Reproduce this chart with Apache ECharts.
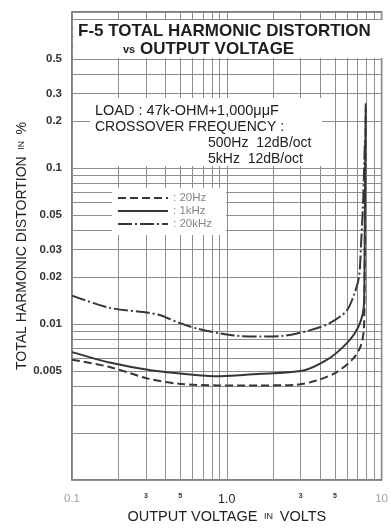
<!DOCTYPE html>
<html><head><meta charset="utf-8">
<script src="https://cdn.jsdelivr.net/npm/echarts@6/dist/echarts.min.js"></script>
<style>html,body{margin:0;padding:0;background:#fff}#c{width:391px;height:529px}</style>
</head><body><div id="c"></div>
<script>
// ---- data ----
const seriesNames = ['20Hz', '1kHz', '20kHz'];
const volts20Hz = [0.1, 0.175, 0.314, 0.49, 0.88, 1.6, 2.8, 3.8, 5.1, 6.55, 7.35, 7.68, 7.75, 7.8, 7.86, 7.9];
const thd20Hz   = [0.0059, 0.0053, 0.00445, 0.00414, 0.00404, 0.00404, 0.00408, 0.00434, 0.0049, 0.006, 0.00727, 0.0093, 0.015, 0.04, 0.12, 0.24];
const volts1kHz = [0.1, 0.175, 0.33, 0.59, 0.9, 1.65, 3.13, 4.42, 5.63, 6.65, 7.35, 7.68, 7.75, 7.8, 7.85, 7.9];
const thd1kHz   = [0.0066, 0.00566, 0.00503, 0.00474, 0.00462, 0.0048, 0.00503, 0.00588, 0.00711, 0.0086, 0.0105, 0.013, 0.02, 0.05, 0.12, 0.26];
const volts20kHz = [0.1, 0.175, 0.314, 0.38, 0.488, 0.654, 0.915, 1.17, 1.65, 2.34, 3.42, 4.59, 5.92, 6.65, 7.15, 7.35, 7.57, 7.68, 7.8];
const thd20kHz   = [0.0152, 0.0127, 0.0118, 0.0113, 0.0102, 0.0093, 0.0087, 0.0084, 0.0083, 0.0084, 0.0091, 0.0101, 0.0121, 0.0155, 0.0201, 0.0312, 0.0558, 0.0864, 0.15];

const xGridValues = [0.1,0.2,0.3,0.4,0.5,0.6,0.7,0.8,0.9,1,2,3,4,5,6,7,8,9,10];
const yGridValues = [0.001,0.002,0.003,0.004,0.005,0.006,0.007,0.008,0.009,0.01,0.02,0.03,0.04,0.05,0.06,0.07,0.08,0.09,0.1,0.2,0.3,0.4,0.5,0.6,0.7,0.8,0.9,1];
const xLabelValues = [0.1, 0.3, 0.5, 1, 3, 5, 10];
const xLabelTexts  = ['0.1', '3', '5', '1.0', '3', '5', '10'];
const xLabelStyles = ['g', 's', 's', 'm', 's', 's', 'g'];
const yLabelValues = [0.005, 0.01, 0.02, 0.03, 0.05, 0.1, 0.2, 0.3, 0.5];
const yLabelTexts  = ['0.005', '0.01', '0.02', '0.03', '0.05', '0.1', '0.2', '0.3', '0.5'];

// ---- helpers ----
const lg = v => Math.round(Math.log10(v) * 1e9) / 1e9;
const pick = (vals, v) => {
  let best = 0, d = Infinity;
  vals.forEach((x, i) => { const e = Math.abs(lg(x) - v); if (e < d) { d = e; best = i; } });
  return best;
};
const zip = (a, b) => a.map((v, i) => [v, b[i]]);
const FF = '"Liberation Sans", Arial, sans-serif';
const INK = '#363636';
const GRIDC = '#8e8e8e';

const chart = echarts.init(document.getElementById('c'), null, {renderer: 'canvas'});
chart.setOption({
  backgroundColor: '#fff',
  animation: false,
  title: [
    {text: 'F-5 TOTAL HARMONIC DISTORTION', left: 78, top: 23, padding: 0, z: 8,
     textStyle: {fontSize: 17, fontWeight: 'bold', color: '#1e1e1e', fontFamily: FF}},
    {text: '{v|vs} OUTPUT VOLTAGE', left: 123, top: 41, padding: 0, z: 8,
     textStyle: {fontSize: 17, fontWeight: 'bold', color: '#1e1e1e', fontFamily: FF,
       rich: {v: {fontSize: 11, fontWeight: 'bold', color: '#1e1e1e', fontFamily: FF}}}}
  ],
  grid: {left: 72, right: 5, top: 12, bottom: 41, show: true, borderColor: '#555', borderWidth: 1.5, backgroundColor: '#fff'},
  legend: {
    data: seriesNames, orient: 'vertical', left: 112, top: 188, z: 8,
    padding: [4, 14, 5, 5], itemGap: 1, itemWidth: 50, itemHeight: 10,
    backgroundColor: '#fff', formatter: ': {name}',
    itemStyle: {opacity: 0},
    textStyle: {color: '#858585', fontSize: 11.5, fontFamily: FF, lineHeight: 12}
  },
  xAxis: [
    {type: 'value', min: -1, max: 1, position: 'bottom',
     axisLine: {show: false}, axisTick: {show: false, customValues: xGridValues.map(lg)},
     splitLine: {show: true, lineStyle: {color: GRIDC, width: 1}},
     axisLabel: {customValues: xLabelValues.map(lg), margin: 13,
       formatter: v => { const i = pick(xLabelValues, v); return '{' + xLabelStyles[i] + '|' + xLabelTexts[i] + '}'; },
       rich: {
         g: {fontSize: 11.5, color: '#a0a0a0', fontFamily: FF},
         s: {fontSize: 7, color: '#333', fontWeight: 'bold', fontFamily: FF},
         m: {fontSize: 12.5, color: '#222', fontFamily: FF}
       }},
     name: '{a|OUTPUT VOLTAGE}  {b|IN}  {a|VOLTS}', nameLocation: 'middle', nameGap: 29, nameMoveOverlap: false,
     nameTextStyle: {rich: {a: {fontSize: 14.5, color: '#222', fontFamily: FF}, b: {fontSize: 9, color: '#222', fontFamily: FF}}}},
    {type: 'log', logBase: 10, min: 0.1, max: 10, show: false}
  ],
  yAxis: [
    {type: 'value', min: -3, max: 0, position: 'left',
     axisLine: {show: false}, axisTick: {show: false, customValues: yGridValues.map(lg)},
     splitLine: {show: true, lineStyle: {color: GRIDC, width: 1}},
     axisLabel: {customValues: yLabelValues.map(lg), margin: 10,
       formatter: v => yLabelTexts[pick(yLabelValues, v)],
       fontSize: 11.5, fontWeight: 'bold', color: '#333', fontFamily: FF},
     name: '{a|TOTAL HARMONIC DISTORTION}  {b|IN}  {a|%}', nameLocation: 'middle', nameGap: 43, nameMoveOverlap: false,
     nameTextStyle: {rich: {a: {fontSize: 14, color: '#222', fontFamily: FF}, b: {fontSize: 8.5, color: '#222', fontFamily: FF}}}},
    {type: 'log', logBase: 10, min: 0.001, max: 1, show: false}
  ],
  series: [
    {name: seriesNames[0], type: 'line', xAxisIndex: 1, yAxisIndex: 1, data: zip(volts20Hz, thd20Hz),
     symbol: 'none', smooth: 0.3, z: 3, lineStyle: {color: INK, width: 2, type: [8, 4]}, itemStyle: {color: INK}},
    {name: seriesNames[1], type: 'line', xAxisIndex: 1, yAxisIndex: 1, data: zip(volts1kHz, thd1kHz),
     symbol: 'none', smooth: 0.3, z: 3, lineStyle: {color: INK, width: 2, type: 'solid'}, itemStyle: {color: INK}},
    {name: seriesNames[2], type: 'line', xAxisIndex: 1, yAxisIndex: 1, data: zip(volts20kHz, thd20kHz),
     symbol: 'none', smooth: 0.3, z: 3, lineStyle: {color: INK, width: 2, type: [14, 3, 2, 3]}, itemStyle: {color: INK}}
  ],
  graphic: [
    {type: 'rect', z: 5, shape: {x: 73.5, y: 20, width: 311, height: 38}, style: {fill: '#fff'}},
    {type: 'rect', z: 5, shape: {x: 90, y: 98, width: 232, height: 68}, style: {fill: '#fff'}},
    {type: 'text', z: 6, x: 95, y: 111, style: {text: 'LOAD : 47k-OHM+1,000μμF', fill: '#222', font: '14.5px ' + FF, verticalAlign: 'middle'}},
    {type: 'text', z: 6, x: 95, y: 127, style: {text: 'CROSSOVER FREQUENCY :', fill: '#222', font: '14px ' + FF, verticalAlign: 'middle'}},
    {type: 'text', z: 6, x: 208, y: 143, style: {text: '500Hz  12dB/oct', fill: '#222', font: '14px ' + FF, verticalAlign: 'middle'}},
    {type: 'text', z: 6, x: 208, y: 159, style: {text: '5kHz  12dB/oct', fill: '#222', font: '14px ' + FF, verticalAlign: 'middle'}}
  ]
});
</script></body></html>
